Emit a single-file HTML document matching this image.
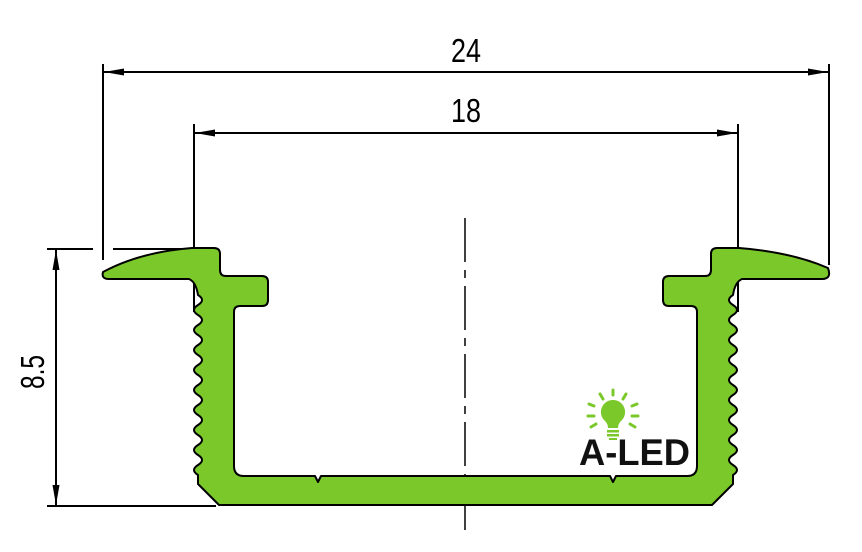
<!DOCTYPE html>
<html><head><meta charset="utf-8"><style>html,body{margin:0;padding:0;background:#fff}svg{display:block}</style></head>
<body>
<svg width="862" height="552" viewBox="0 0 862 552" xmlns="http://www.w3.org/2000/svg">
<defs>
<marker id="a" viewBox="0 0 20 8" refX="20" refY="4" markerWidth="20" markerHeight="8" markerUnits="userSpaceOnUse" orient="auto-start-reverse"><path d="M20,4 L0,0.5 L0,7.5 Z" fill="#000"/></marker>
</defs>
<g stroke="#000" stroke-width="2" fill="none">
<line x1="103" y1="64" x2="103" y2="260"/>
<line x1="829" y1="64" x2="829" y2="265"/>
<line x1="104" y1="72" x2="828" y2="72" marker-start="url(#a)" marker-end="url(#a)"/>
<line x1="194" y1="124" x2="194" y2="312"/>
<line x1="738" y1="124" x2="738" y2="312"/>
<line x1="195" y1="133" x2="737" y2="133" marker-start="url(#a)" marker-end="url(#a)"/>
<line x1="47" y1="249" x2="93" y2="249"/>
<line x1="113" y1="249" x2="194" y2="249"/>
<line x1="47" y1="506" x2="216" y2="506"/>
<line x1="56" y1="250" x2="56" y2="505" marker-start="url(#a)" marker-end="url(#a)"/>
<line x1="465" y1="218" x2="465" y2="530" stroke-width="1.5" stroke-dasharray="44,8,8,8"/>
</g>
<path fill="#7ac829" stroke="#000" stroke-width="2" stroke-linejoin="round" d="
M103,272 Q140,252 192,248 L214,248 Q220,248 220,254 L220,270 Q220,276 226,276 L262,276 Q268,276 268,282 L268,300 Q268,306 262,306 L240,306 Q234,306 234,312 L234,466 Q234,476 244,476 L315,476 L318,482 L321,476 L610,476 L613,482 L616,476 L687,476 Q697,476 697,466 L697,312 Q697,306 691,306 L669,306 Q663,306 663,300 L663,282 Q663,276 669,276 L705,276 Q711,276 711,270 L711,254 Q711,248 717,248 L739,248 Q791,252 828,268 Q832,279 822,279 L742,279 Q735,282 733,295
Q725,300 733,305 T733,315 T733,325 T733,335 T733,345 T733,355 T733,365 T733,375 T733,385 T733,395 T733,405 T733,415 T733,425 T733,435 T733,445 T733,455 T733,465 T733,475
L733,484 L712,505 L219,505 L198,484 L198,475
Q190,470 198,465 T198,455 T198,445 T198,435 T198,425 T198,415 T198,405 T198,395 T198,385 T198,375 T198,365 T198,355 T198,345 T198,335 T198,325 T198,315 T198,305 T198,295
Q196,282 189,279 L109,279 Q101,279 103,272 Z"/>
<g font-family="Liberation Sans, sans-serif" fill="#000">
<text x="451" y="62" font-size="33" textLength="30" lengthAdjust="spacingAndGlyphs">24</text>
<text x="451" y="122" font-size="33" textLength="30" lengthAdjust="spacingAndGlyphs">18</text>
<text transform="translate(44,389) rotate(-90)" font-size="33" textLength="34" lengthAdjust="spacingAndGlyphs">8.5</text>
</g>
<g stroke="#7ac829" stroke-width="3" stroke-linecap="round">
<line x1="600" y1="394" x2="603" y2="399"/><line x1="613" y1="390" x2="613" y2="395"/><line x1="626" y1="394" x2="623" y2="399"/>
<line x1="589" y1="404" x2="594" y2="406"/><line x1="637" y1="404" x2="632" y2="406"/>
<line x1="588" y1="416" x2="594" y2="416"/><line x1="638" y1="416" x2="632" y2="416"/>
<line x1="591" y1="427" x2="596" y2="424"/><line x1="635" y1="427" x2="630" y2="424"/>
</g>
<path fill="#7ac829" d="M613,400 a12,12 0 0 1 8,21 q-3,3 -3,7 h-10 q0,-4 -3,-7 a12,12 0 0 1 8,-21 Z"/>
<rect x="607" y="430" width="12" height="2.5" fill="#7ac829"/><rect x="607" y="434" width="12" height="2.5" fill="#7ac829"/><rect x="609" y="438" width="8" height="2" fill="#7ac829"/>
<text x="579" y="465" font-family="Liberation Sans, sans-serif" font-weight="bold" font-size="37" fill="#111" textLength="111" lengthAdjust="spacingAndGlyphs">A-LED</text>
</svg>
</body></html>
